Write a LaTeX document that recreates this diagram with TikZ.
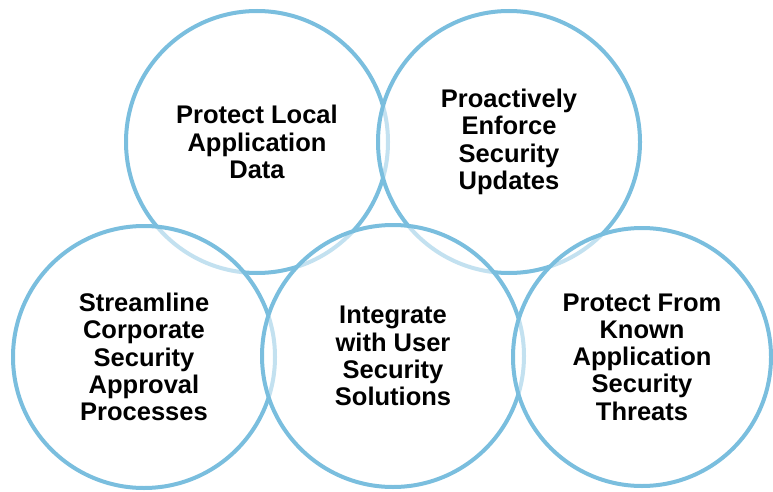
\documentclass[tikz,border=0pt]{standalone}
\usepackage{fontspec}
\setmainfont{Liberation Sans}
\usepackage{tikz}
\usetikzlibrary{positioning}

\definecolor{ringblue}{RGB}{122,190,222}

\begin{document}
\begin{tikzpicture}[x=1pt, y=-1pt,
    every node/.style={font=\fontsize{25.5}{27.3}\selectfont\bfseries, align=center},
    ring/.style={circle, draw=ringblue, line width=4pt, minimum size=262pt, inner sep=0pt,
        fill=white, fill opacity=0.55, text opacity=1}]
    \useasboundingbox (0,0) rectangle (773,492);
    % top row
    \node[ring] (local) at (257,142) {Protect Local\\Application\\Data};
    \node[ring] (updates) at (509,142) {Proactively\\Enforce\\Security\\Updates};
    % bottom row
    \node[ring] (approval) at (144,357) {Streamline\\Corporate\\Security\\Approval\\Processes};
    \node[ring] (solutions) at (393,356) {Integrate\\with User\\Security\\Solutions};
    \node[ring, minimum size=258pt] (threats) at (642,357) {Protect From\\Known\\Application\\Security\\Threats};
\end{tikzpicture}
\end{document}
